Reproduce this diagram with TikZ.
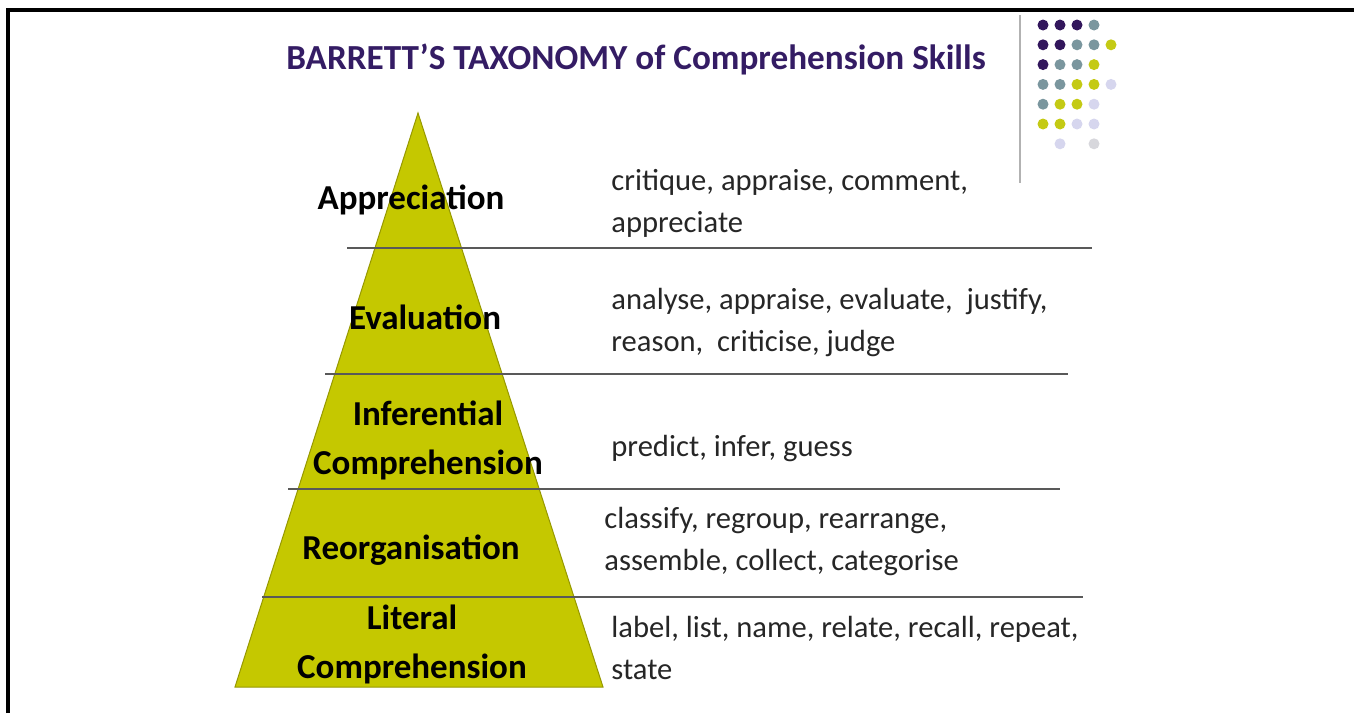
\documentclass[tikz,border=0pt]{standalone}
\usepackage{fontspec}
\setmainfont{Carlito}
\definecolor{pyrfill}{RGB}{197,200,0}
\definecolor{pyredge}{RGB}{150,152,0}
\definecolor{titlepurple}{RGB}{52,28,100}
\definecolor{dotpurple}{RGB}{50,22,92}
\definecolor{dotgrey}{RGB}{122,150,158}
\definecolor{dotlime}{RGB}{196,202,20}
\definecolor{dotlav}{RGB}{214,214,238}
\definecolor{dotpale}{RGB}{215,215,220}
\tikzset{
  level/.style={font=\bfseries\fontsize{17.5}{24.5}\selectfont, align=center, inner sep=0pt},
  verbs/.style={font=\fontsize{15.3}{21}\selectfont, text=black!85, align=left, anchor=west, inner sep=0pt},
  rule/.style={draw=black!65, line width=1pt}
}
\begin{document}
\begin{tikzpicture}[x=0.5pt,y=-0.5pt]
      \useasboundingbox (0,0) rectangle (1354,713);
      % frame
      \draw[line width=1.6pt] (8,713) -- (8,10) -- (1354,10);
      % corner decoration
      \draw[black!30, line width=1pt] (1020,15) -- (1020,183);
      \foreach \x/\y/\c in {0/0/dotpurple,1/0/dotpurple,2/0/dotpurple,3/0/dotgrey,
                            0/1/dotpurple,1/1/dotpurple,2/1/dotgrey,3/1/dotgrey,4/1/dotlime,
                            0/2/dotpurple,1/2/dotgrey,2/2/dotgrey,3/2/dotlime,
                            0/3/dotgrey,1/3/dotgrey,2/3/dotlime,3/3/dotlime,4/3/dotlav,
                            0/4/dotgrey,1/4/dotlime,2/4/dotlime,3/4/dotlav,
                            0/5/dotlime,1/5/dotlime,2/5/dotlav,3/5/dotlav,
                            1/6/dotlav,3/6/dotpale}
        \fill[\c] (1043+17*\x,25+19.8*\y) circle (5.5);
      \node[font=\bfseries\fontsize{17.6}{20}\selectfont, text=titlepurple, inner sep=0pt]
        (title) at (636,59) {BARRETT’S TAXONOMY of Comprehension Skills};
      % pyramid
      \filldraw[fill=pyrfill, draw=pyredge, line width=0.5pt]
        (418,113) -- (603,687) -- (235,687) -- cycle;
      \begin{scope}[rule]
        \draw (347,248) -- (1092,248);
        \draw (325,374) -- (1068,374);
        \draw (288,489) -- (1060,489);
        \draw (262,597) -- (1083,597);
      \end{scope}
      \draw
        (411,200) node[level] (appr){Appreciation}
        (425,317) node[level] (eval){Evaluation}
        (428,440) node[level] (infer){Inferential\\Comprehension}
        (411,550) node[level] (reorg){Reorganisation}
        (412,644) node[level] (lit){Literal\\Comprehension};
      \draw
        (611,203) node[verbs] (apprv){critique, appraise, comment,\\appreciate}
        (611,322) node[verbs] (evalv){analyse, appraise, evaluate,\ \ justify,\\reason,\ \ criticise, judge}
        (611,448) node[verbs] (inferv){predict, infer, guess}
        (604,541) node[verbs] (reorgv){classify, regroup, rearrange,\\assemble, collect, categorise}
        (611,648) node[verbs] (litv){label, list, name, relate, recall, repeat,\\state};
    \end{tikzpicture}
\end{document}
